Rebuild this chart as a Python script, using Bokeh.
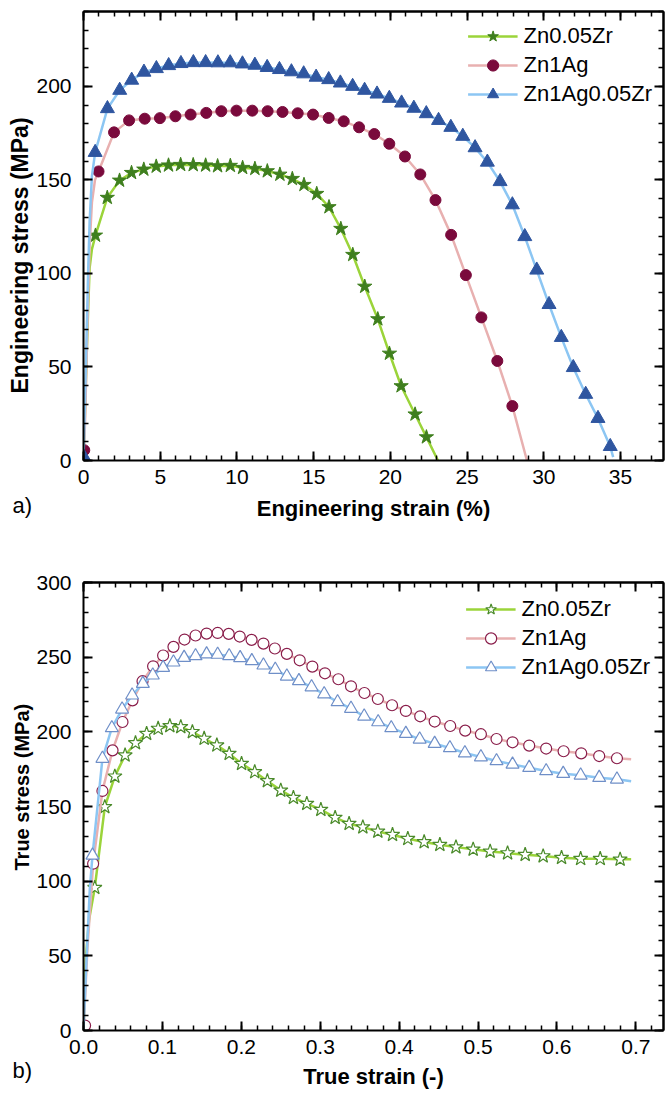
from bokeh.plotting import figure
from bokeh.models import (Range1d, LinearAxis, FixedTicker, Title, PrintfTickFormatter)
from bokeh.layouts import column
from bokeh.embed import file_html
from bokeh.resources import INLINE

# ---------------- data: engineering curves (a) ----------------
names = ["Zn0.05Zr", "Zn1Ag", "Zn1Ag0.05Zr"]

eng_zr_x = [0.78, 1.55, 2.35, 3.13, 3.93, 4.74, 5.54, 6.33, 7.15, 7.96, 8.74, 9.57,
            10.37, 11.17, 11.98, 12.8, 13.61, 14.37, 15.2, 16.0, 16.77, 17.55,
            18.33, 19.18, 19.94, 20.7, 21.61, 22.35]
eng_zr_y = [120.3, 140.5, 149.7, 153.8, 155.6, 157.2, 157.8, 158.1, 158.0, 157.8,
            157.4, 157.6, 156.5, 156.0, 154.7, 152.9, 150.6, 147.4, 142.6, 135.5,
            123.9, 110.0, 93.0, 75.6, 57.2, 39.8, 24.7, 12.5]
eng_zr_head_x = [0.0, 0.1, 0.2, 0.3, 0.4, 0.55]
eng_zr_head_y = [0.0, 27.0, 54.0, 80.0, 103.0, 113.0]
eng_zr_tail_x = [23.1]
eng_zr_tail_y = [0.0]

eng_ag_x = [0.05, 0.98, 1.99, 2.97, 3.99, 4.98, 5.99, 6.98, 8.0, 8.98, 9.97, 11.0,
            12.0, 12.97, 13.96, 14.96, 15.98, 16.96, 17.96, 18.95, 19.93, 20.95,
            21.95, 22.94, 23.96, 24.92, 25.93, 26.97, 27.95]
eng_ag_y = [5.5, 154.5, 175.4, 181.8, 182.7, 183.0, 184.0, 184.9, 185.8, 186.7,
            187.0, 187.0, 186.7, 186.3, 185.6, 184.9, 183.1, 181.3, 178.1, 174.5,
            169.3, 162.5, 152.9, 139.2, 120.6, 99.1, 76.5, 53.2, 29.1]
eng_ag_head_x = [0.0, 0.1, 0.25, 0.4, 0.55, 0.75]
eng_ag_head_y = [0.0, 20.0, 70.0, 115.0, 138.0, 150.0]
eng_ag_tail_x = [28.9]
eng_ag_tail_y = [0.0]

eng_agzr_x = [0.05, 0.76, 1.56, 2.36, 3.14, 3.94, 4.75, 5.55, 6.35, 7.16, 7.96, 8.76,
              9.56, 10.36, 11.17, 11.97, 12.77, 13.55, 14.35, 15.16, 15.98, 16.74,
              17.54, 18.32, 19.13, 19.93, 20.73, 21.53, 22.34, 23.14, 23.94, 24.72,
              25.52, 26.32, 27.15, 27.95, 28.76, 29.54, 30.34, 31.14, 31.92, 32.73,
              33.53, 34.33]
eng_agzr_y = [1.5, 164.7, 188.1, 197.9, 203.3, 207.6, 209.5, 211.1, 212.2, 212.7,
              212.7, 212.6, 212.6, 212.0, 211.3, 210.1, 209.0, 207.8, 206.7, 204.9,
              203.6, 201.8, 200.0, 197.9, 195.9, 193.6, 191.1, 188.3, 185.4, 181.8,
              178.1, 173.3, 167.2, 159.5, 149.1, 136.7, 119.7, 101.8, 83.4, 65.8,
              49.7, 35.4, 22.5, 7.5]
eng_agzr_head_x = [0.0, 0.1, 0.2, 0.3, 0.4, 0.55]
eng_agzr_head_y = [0.0, 33.0, 66.0, 100.0, 128.0, 152.0]
eng_agzr_tail_x = [34.52]
eng_agzr_tail_y = [1.8]

# ---------------- data: true curves (b) ----------------
tr_zr_x = [0.0143, 0.027, 0.0397, 0.0527, 0.0659, 0.080, 0.0946, 0.1094, 0.1233,
           0.138, 0.1529, 0.169, 0.1846, 0.2003, 0.217, 0.233, 0.250, 0.266, 0.283,
           0.3008, 0.3189, 0.3366, 0.354, 0.373, 0.3916, 0.411, 0.4317, 0.4516,
           0.472, 0.4938, 0.5153, 0.5374, 0.5597, 0.5825, 0.6058, 0.630, 0.6548,
           0.680]
tr_zr_y = [95.6, 149.7, 170.2, 184.3, 192.5, 198.8, 202.2, 204.0, 203.3, 200.0,
           195.5, 191.0, 185.4, 178.7, 173.1, 167.1, 160.8, 155.9, 151.9, 147.9,
           142.5, 138.5, 136.2, 133.3, 131.1, 128.4, 126.2, 124.4, 122.8, 121.3,
           119.9, 118.8, 117.7, 116.8, 115.7, 115.0, 115.0, 114.6]
tr_zr_head_x = [0.0, 0.003, 0.007]
tr_zr_head_y = [0.0, 49.0, 74.0]
tr_zr_tail_x = [0.694]
tr_zr_tail_y = [114.6]

tr_ag_x = [0.002, 0.0122, 0.024, 0.0368, 0.0494, 0.0621, 0.0748, 0.0882, 0.1009,
           0.114, 0.128, 0.142, 0.156, 0.170, 0.184, 0.198, 0.213, 0.228, 0.2425,
           0.2577, 0.274, 0.290, 0.306, 0.323, 0.339, 0.356, 0.373, 0.391, 0.4085,
           0.4267, 0.445, 0.4647, 0.4837, 0.5036, 0.5234, 0.5437, 0.5648, 0.5863,
           0.6084, 0.6307, 0.6535, 0.676]
tr_ag_y = [3.3, 111.7, 160.4, 187.6, 206.6, 221.1, 233.9, 243.9, 251.1, 256.9,
           261.8, 264.5, 265.8, 266.2, 265.6, 263.8, 261.6, 259.1, 255.8, 252.2,
           247.9, 243.7, 239.2, 235.2, 230.5, 226.0, 222.0, 217.8, 214.0, 210.4,
           206.9, 203.9, 200.8, 198.4, 195.2, 193.0, 190.8, 188.8, 187.0, 185.6,
           183.8, 182.3]
tr_ag_head_x = [0.0, 0.005]
tr_ag_head_y = [0.0, 55.0]
tr_ag_tail_x = [0.694]
tr_ag_tail_y = [181.6]

tr_agzr_x = [0.0114, 0.024, 0.0359, 0.0489, 0.0616, 0.0752, 0.0878, 0.1009, 0.114,
             0.1275, 0.142, 0.156, 0.170, 0.1846, 0.1985, 0.2133, 0.228, 0.243,
             0.2577, 0.273, 0.289, 0.305, 0.322, 0.339, 0.3557, 0.3734, 0.390,
             0.4085, 0.426, 0.445, 0.4643, 0.4833, 0.5036, 0.5234, 0.5437, 0.5648,
             0.5863, 0.6079, 0.630, 0.6535, 0.676]
tr_agzr_y = [117.3, 182.1, 202.6, 215.1, 224.5, 232.3, 237.9, 243.0, 246.6, 249.7,
             250.8, 252.0, 251.8, 250.8, 249.5, 247.5, 244.6, 241.7, 237.2, 234.1,
             230.0, 225.3, 220.0, 215.6, 210.4, 206.6, 202.6, 198.8, 195.0, 192.1,
             189.2, 185.8, 183.1, 180.5, 178.2, 176.0, 173.8, 172.0, 170.9, 169.3,
             168.2]
tr_agzr_head_x = [0.0, 0.004, 0.008]
tr_agzr_head_y = [0.0, 50.0, 95.0]
tr_agzr_tail_x = [0.694]
tr_agzr_tail_y = [166.9]

# ---------------- tick positions ----------------
a_x_major = [0, 5, 10, 15, 20, 25, 30, 35]
a_x_minor = list(range(0, 38))
a_y_major = [0, 50, 100, 150, 200]
a_y_minor = list(range(0, 241, 10))
b_x_major = [0.0, 0.1, 0.2, 0.3, 0.4, 0.5, 0.6, 0.7]
b_x_minor = [round(i * 0.02, 2) for i in range(37)]
b_y_major = [0, 50, 100, 150, 200, 250, 300]
b_y_minor = list(range(0, 301, 10))

# ---------------- styles ----------------
FONT = "Liberation Sans"
line_colors = ["#9bd43a", "#e8b0b0", "#8cc6f3"]
mark_colors = ["#3f7f1e", "#7a0a3c", "#2f56a0"]
mark_colors_b = ["#4a8a2a", "#8a1e4b", "#6f8fc8"]


def style_axis(ax):
    ax.axis_line_width = 2
    ax.axis_line_color = "black"
    ax.major_tick_line_width = 2
    ax.minor_tick_line_width = 1.5
    ax.major_tick_in = 9
    ax.major_tick_out = 0
    ax.minor_tick_in = 5
    ax.minor_tick_out = 0
    ax.major_label_text_font = FONT
    ax.major_label_text_font_size = "21px"
    ax.major_label_text_color = "black"
    ax.axis_label_text_font = FONT
    ax.axis_label_text_font_size = "22px"
    ax.axis_label_text_font_style = "bold"
    ax.axis_label_text_color = "black"


def mirror_axis(p, side, positions, length, width):
    # label-free axis: only "minor" ticks, so no tick labels are produced
    ax = LinearAxis(ticker=FixedTicker(ticks=[], minor_ticks=positions))
    style_axis(ax)
    ax.minor_tick_in = length
    ax.minor_tick_line_width = width
    ax.major_label_standoff = 0
    ax.axis_label_standoff = 0
    p.add_layout(ax, side)


def make_axes(p, xmaj, xmin, ymaj, ymin, xlabel, xlabel_standoff, xfmt=None):
    p.xaxis.ticker = FixedTicker(ticks=xmaj, minor_ticks=xmin)
    p.yaxis.ticker = FixedTicker(ticks=ymaj, minor_ticks=ymin)
    if xfmt:
        p.xaxis.formatter = PrintfTickFormatter(format=xfmt)
    p.xaxis.axis_label = xlabel
    for ax in p.axis:
        style_axis(ax)
    p.xaxis.major_label_standoff = 9
    p.yaxis.major_label_standoff = 12
    p.xaxis.axis_label_standoff = xlabel_standoff
    mirror_axis(p, "above", xmin, 5, 1.5)
    mirror_axis(p, "above", xmaj, 9, 2)
    mirror_axis(p, "right", ymin, 5, 1.5)
    mirror_axis(p, "right", ymaj, 9, 2)


def make_fig(xr, yr, h, top_border, bottom_border):
    p = figure(width=665, height=h, x_range=Range1d(*xr),
               y_range=Range1d(*yr), output_backend="svg", toolbar_location=None,
               min_border_left=83, min_border_right=2, min_border_top=top_border,
               min_border_bottom=bottom_border)
    p.xgrid.visible = False
    p.ygrid.visible = False
    p.outline_line_color = None
    p.background_fill_color = "white"
    p.border_fill_color = "white"
    return p


def style_legend(p, margin):
    lg = p.legend[0]
    lg.location = "top_right"
    lg.border_line_color = None
    lg.background_fill_alpha = 0
    lg.label_text_font = FONT
    lg.label_text_font_size = "22px"
    lg.label_text_color = "black"
    lg.glyph_width = 50
    lg.glyph_height = 28
    lg.label_height = 28
    lg.spacing = 1
    lg.label_standoff = 6
    lg.margin = margin
    lg.padding = 5


def add_ylabel(p, text, size, offset):
    p.add_layout(Title(text=text, align="left", offset=offset, standoff=2,
                       text_font=FONT, text_font_size=size, text_font_style="bold",
                       text_color="black"), "left")


def add_panel_tag(p, text, standoff):
    p.add_layout(Title(text=text, align="left", offset=-71, standoff=standoff,
                       vertical_align="top", text_font=FONT, text_font_size="22px",
                       text_font_style="normal", text_color="black"), "below")


# ---------------- figure a ----------------
pa = make_fig((0, 37.8), (0, 240), 540, 11, 80)
series_a = [
    (eng_zr_head_x, eng_zr_head_y, eng_zr_x, eng_zr_y, eng_zr_tail_x, eng_zr_tail_y, "star", 15),
    (eng_ag_head_x, eng_ag_head_y, eng_ag_x, eng_ag_y, eng_ag_tail_x, eng_ag_tail_y, "circle", 11),
    (eng_agzr_head_x, eng_agzr_head_y, eng_agzr_x, eng_agzr_y, eng_agzr_tail_x, eng_agzr_tail_y, "triangle", 14),
]
for i, (hx, hy, mx, my, tx, ty, mk, sz) in enumerate(series_a):
    lx = hx + [v for v in mx if v > hx[-1]] + tx
    ly = hy + [my[j] for j, v in enumerate(mx) if v > hx[-1]] + ty
    pa.line(lx, ly, line_color=line_colors[i], line_width=2.5, legend_label=names[i])
    pa.scatter(mx, my, marker=mk, size=sz, fill_color=mark_colors[i],
               line_color=mark_colors[i], legend_label=names[i])
make_axes(pa, a_x_major, a_x_minor, a_y_major, a_y_minor, "Engineering strain (%)", 9)
style_legend(pa, 11)
add_ylabel(pa, "Engineering stress (MPa)", "23px", 67)
add_panel_tag(pa, "a)", -62)

# ---------------- figure b ----------------
pb = make_fig((0, 0.735), (0, 300), 553, 42, 63)
series_b = [
    (tr_zr_head_x, tr_zr_head_y, tr_zr_x, tr_zr_y, tr_zr_tail_x, tr_zr_tail_y, "star", 15),
    (tr_ag_head_x, tr_ag_head_y, tr_ag_x, tr_ag_y, tr_ag_tail_x, tr_ag_tail_y, "circle", 11),
    (tr_agzr_head_x, tr_agzr_head_y, tr_agzr_x, tr_agzr_y, tr_agzr_tail_x, tr_agzr_tail_y, "triangle", 13),
]
for i, (hx, hy, mx, my, tx, ty, mk, sz) in enumerate(series_b):
    lx = hx + [v for v in mx if v > hx[-1]] + tx
    ly = hy + [my[j] for j, v in enumerate(mx) if v > hx[-1]] + ty
    pb.line(lx, ly, line_color=line_colors[i], line_width=2.5, legend_label=names[i])
    pb.scatter(mx, my, marker=mk, size=sz, fill_color="white",
               line_color=mark_colors_b[i], line_width=1.2, legend_label=names[i])
make_axes(pb, b_x_major, b_x_minor, b_y_major, b_y_minor, "True strain (-)", 7, xfmt="%.1f")
style_legend(pb, 13)
add_ylabel(pb, "True stress (MPa)", "20px", 160)
add_panel_tag(pb, "b)", -68)

layout = column(pa, pb, spacing=0)
open("out.html", "w").write(file_html(layout, INLINE))
